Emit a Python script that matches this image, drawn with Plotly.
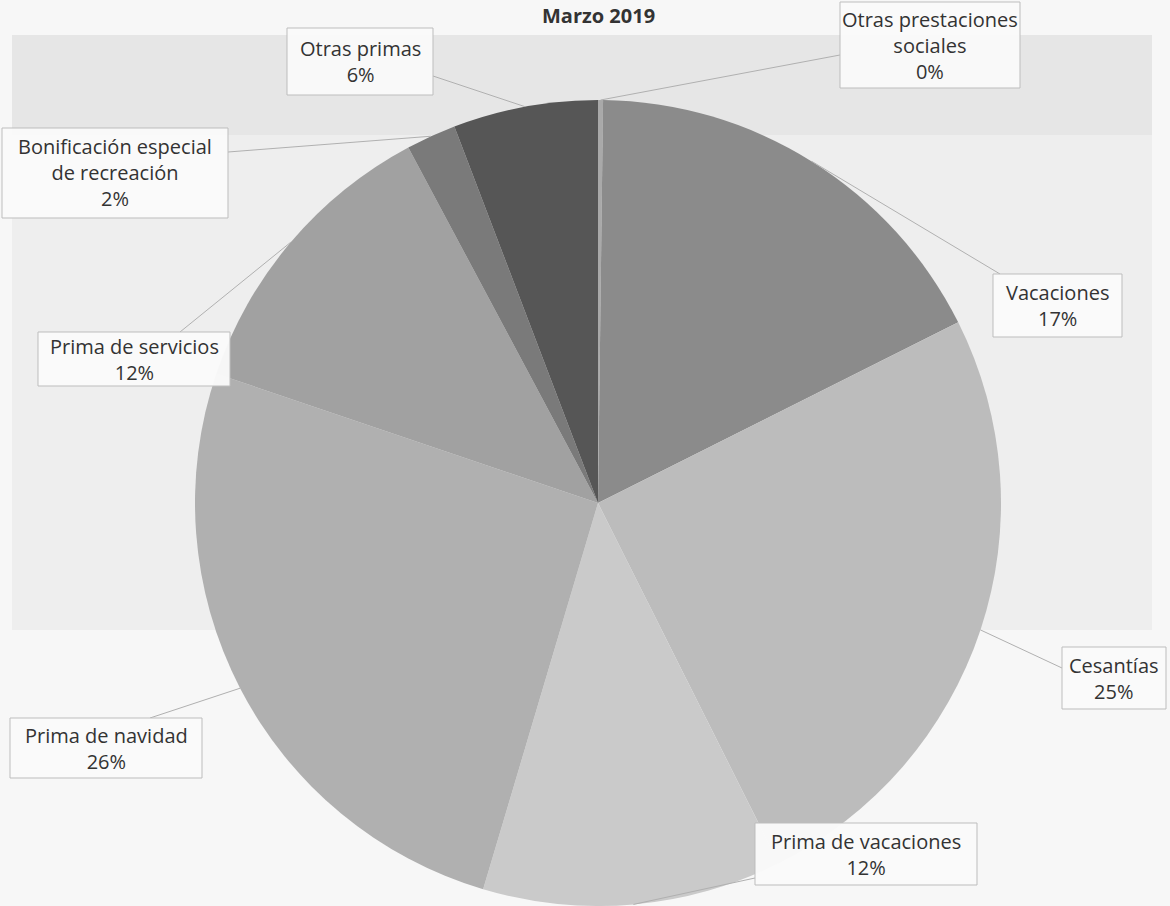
import math
import plotly.graph_objects as go

# ---- data ----
categories = ["Otras prestaciones sociales", "Vacaciones", "Cesantías", "Prima de vacaciones",
              "Prima de navidad", "Prima de servicios", "Bonificación especial de recreación",
              "Otras primas"]
label_text = ["Otras prestaciones<br>sociales", "Vacaciones", "Cesantías", "Prima de vacaciones",
              "Prima de navidad", "Prima de servicios", "Bonificación especial<br>de recreación",
              "Otras primas"]
values = [0.2, 17.4, 25.0, 12.0, 25.6, 12.0, 2.0, 5.8]
colors = ["#a9a9a9", "#8b8b8b", "#bcbcbc", "#cacaca", "#b0b0b0", "#a1a1a1", "#7a7a7a", "#565656"]
title_text = "Marzo 2019"

# ---- layout geometry (pixels) ----
W, H = 1170, 906
cx, cy, R = 598, 503, 403
# label boxes (x0, x1, y0, y1) and leader-line anchor on each box
boxes = [(840, 1020, 2, 88), (993, 1122, 274, 337), (1062, 1166, 647, 709), (755, 977, 823, 885),
         (10, 202, 718, 778), (38, 230, 332, 386), (2, 228, 128, 218), (287, 433, 28, 95)]
box_anchor = [(840, 55), (1000, 274), (1062, 668), (755, 878),
              (150, 718), (180, 332), (228, 152), (433, 76)]

def px(x):
    return x / W

def py(y):
    return 1 - y / H

fig = go.Figure()

# faint background table area
fig.add_shape(type="rect", xref="paper", yref="paper", x0=px(12), x1=px(1152), y0=py(630), y1=py(35),
              fillcolor="#eeeeee", line=dict(width=0), layer="below")
fig.add_shape(type="rect", xref="paper", yref="paper", x0=px(12), x1=px(1152), y0=py(135), y1=py(35),
              fillcolor="#e6e6e6", line=dict(width=0), layer="below")

fig.add_trace(go.Pie(
    labels=categories, values=values, sort=False, direction="clockwise", rotation=0,
    marker=dict(colors=colors, line=dict(width=0)),
    textinfo="none", hoverinfo="none", showlegend=False,
    domain=dict(x=[px(cx - R), px(cx + R)], y=[py(cy + R), py(cy - R)]),
))

total = sum(values)
cum = 0
for i, v in enumerate(values):
    mid = (cum + v / 2) / total * 2 * math.pi
    cum += v
    sx = cx + R * math.sin(mid)
    sy = cy - R * math.cos(mid)
    ax, ay = box_anchor[i]
    fig.add_shape(type="line", xref="paper", yref="paper", x0=px(sx), y0=py(sy), x1=px(ax), y1=py(ay),
                  line=dict(color="#b0b0b0", width=1))
    x0, x1, y0, y1 = boxes[i]
    fig.add_shape(type="rect", xref="paper", yref="paper", x0=px(x0), x1=px(x1), y0=py(y1), y1=py(y0),
                  fillcolor="rgba(250,250,250,0.96)", line=dict(color="#bdbdbd", width=1))
    pct = round(v / total * 100)
    fig.add_annotation(xref="paper", yref="paper", x=px((x0 + x1) / 2), y=py((y0 + y1) / 2),
                       xanchor="center", yanchor="middle",
                       showarrow=False, text=f"{label_text[i]}<br>{pct}%", align="center",
                       font=dict(family="Open Sans", size=20, color="#333333"))

fig.add_annotation(xref="paper", yref="paper", x=px(598), y=1, xanchor="center", yanchor="top",
                   showarrow=False, text=f"<b>{title_text}</b>",
                   font=dict(family="Open Sans", size=20, color="#333333"))

fig.update_layout(width=W, height=H, margin=dict(l=0, r=0, t=0, b=0),
                  paper_bgcolor="#f7f7f7", plot_bgcolor="#f7f7f7")

fig.write_html("out.html", config={"displayModeBar": False},
               post_script="document.body.style.margin='0';")
